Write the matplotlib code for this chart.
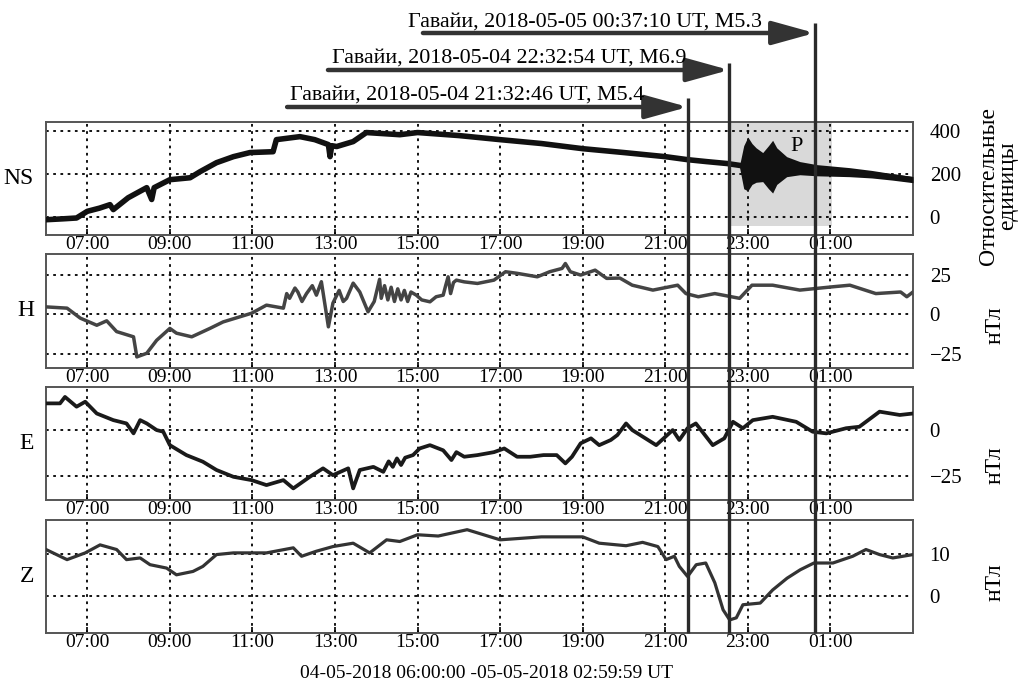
import numpy as np
import matplotlib
matplotlib.use("Agg")
import matplotlib.pyplot as plt

plt.rcParams['font.family'] = ['Liberation Serif', 'DejaVu Serif']

# hours since 2018-05-04 06:00 UT
tick_hours = [1, 3, 5, 7, 9, 11, 13, 15, 17, 19]
tick_labels = ['07:00', '09:00', '11:00', '13:00', '15:00', '17:00',
               '19:00', '21:00', '23:00', '01:00']

# NS (relative units), centre of the trace
ns_hours = [0, 0.4, 0.74, 1.0, 1.3, 1.55, 1.63, 1.99, 2.2, 2.44, 2.56, 2.62,
            3.0, 3.49, 3.73, 4.13, 4.54, 4.94, 5.5, 5.58, 6.15, 6.51, 6.84,
            6.88, 6.92, 7.04, 7.44, 7.76, 8.57, 9, 10, 11, 12, 13, 14, 15,
            15.54, 16, 16.5, 16.85, 17.5, 18, 18.5, 19, 19.5, 20, 20.5, 21]
ns_vals = [-14, -10, -6, 25, 40, 56, 33, 88, 110, 135, 80, 135,
           172, 181, 209, 251, 279, 298, 302, 358, 372, 358, 335,
           279, 330, 326, 349, 391, 381, 391, 377, 358, 340, 316, 298, 279,
           265, 256, 247, 237, 230, 230, 216, 207, 205, 195, 185, 172]

# NS envelope of the P oscillation
p_hours = [16.8, 16.9, 17.0, 17.1, 17.2, 17.36, 17.5, 17.6, 17.7, 17.94,
           18.26, 18.67, 19.46, 20.0, 20.5, 21.0]
p_upper = [240, 330, 370, 340, 320, 298, 330, 355, 320, 279,
           256, 242, 228, 215, 200, 186]
p_lower = [228, 130, 120, 150, 160, 163, 130, 110, 150, 186,
           195, 190, 186, 180, 170, 158]

# H, nT
h_hours = [0, 0.51, 0.83, 1.23, 1.47, 1.71, 2.12, 2.2, 2.44, 2.68, 3.0, 3.16,
           3.53, 3.97, 4.29, 4.98, 5.34, 5.75, 5.83, 5.9, 6.03, 6.1, 6.2,
           6.31, 6.45, 6.55, 6.67, 6.84, 6.95, 7.1, 7.2, 7.28, 7.44, 7.6,
           7.8, 7.95, 8.08, 8.12, 8.2, 8.28, 8.36, 8.44, 8.52, 8.6, 8.68,
           8.76, 8.84, 8.97, 9.1, 9.3, 9.45, 9.62, 9.68, 9.74, 9.8, 9.87,
           9.94, 10.13, 10.45, 10.85, 11.13, 11.41, 11.9, 12.2, 12.5, 12.58,
           12.7, 12.95, 13.3, 13.58, 13.9, 14.2, 14.7, 15.3, 15.5,
           15.8, 16.2, 16.8, 17.1, 17.6, 18.26, 19.06, 19.47, 20.1, 20.7,
           20.85, 21]
h_vals = [4.6, 3.8, -2.5, -7, -4.2, -11, -14.3, -27, -24.7, -16.5, -9, -12,
          -14.3, -9, -4.9, 0.6, 5.7, 3.8, 13, 10, 16.5, 14, 8,
          13, 18, 12, 20.5, -8, 7, 15, 8, 10, 19.6, 14,
          1.5, 8, 22, 10, 18, 9, 17, 8, 16, 9, 15,
          8, 14, 12, 9, 7.8, 11, 12, 18, 23.6, 13, 20,
          21.5, 20.4, 19.4, 21.5, 26.8, 25.8, 23.6, 26.8, 28.9, 32,
          26.8, 24.7, 27.8, 22.6, 22.8, 18.3, 15.2, 18.3, 13,
          11, 13, 10, 18.3, 18.3, 15.2, 17.3, 18.3, 13, 14,
          11, 14]

# E, nT
e_hours = [0, 0.34, 0.46, 0.74, 0.95, 1.23, 1.63, 1.95, 2.12, 2.28, 2.44,
           2.68, 2.84, 3.0, 3.4, 3.8, 4.13, 4.54, 4.98, 5.34, 5.75, 5.99,
           6.39, 6.71, 6.95, 7.32, 7.44, 7.6, 7.93, 8.17, 8.3, 8.4, 8.5, 8.6,
           8.7, 8.89, 9.05, 9.3, 9.62, 9.82, 9.94, 10.13, 10.45, 10.85, 11.1,
           11.41, 11.73, 12.05, 12.37, 12.58, 12.74, 12.95, 13.2, 13.4, 13.68,
           13.84, 14.05, 14.2, 14.78, 15.18, 15.34,
           15.54, 15.74, 16.15, 16.43, 16.64, 16.88, 17.12, 17.6, 18.17,
           18.57, 18.9, 19.38, 19.7, 20.19, 20.68, 21]
e_vals = [14.5, 14.5, 18, 12.7, 15.4, 9, 5.4, 3.6, -1.8, 5.4, 3.6,
          0, -0.9, -8.2, -13.6, -17.2, -21.7, -25.4, -27.2, -29.9, -27.2, -31.7,
          -25.4, -20.8, -24.5, -20.8, -31.7, -21.7, -20, -22.7, -17, -20, -15.4,
          -19, -15, -13.6, -10, -8.2, -11, -16.3, -12, -14.5, -13.6, -12, -10,
          -14.5, -14.5, -13.6, -13.6, -18.1, -14.5, -7.2, -4.5, -8.2, -5.4,
          -2.7, 3.6, 0, -8.2, 0, -5.4,
          1, 3.6, -8.2, -4.5, 4.5, 1, 5.4, 7.2, 4.5,
          -0.9, -1.8, 1, 1.8, 10, 8.2, 9]

# Z, nT
z_hours = [0, 0.51, 0.95, 1.31, 1.71, 1.95, 2.28, 2.52, 2.92, 3.16, 3.56,
           3.8, 4.13, 4.54, 5.34, 5.99, 6.19, 6.55, 6.95, 7.44, 7.84, 8.25,
           8.57, 9, 9.5, 10.2, 11, 12, 13, 13.4, 14.05, 14.45, 14.82, 15.02,
           15.22, 15.34, 15.54, 15.75, 15.98, 16.2, 16.4, 16.56, 16.72, 16.88,
           17.3, 17.6, 17.95, 18.27, 18.6, 19.06, 19.54, 19.86, 20.19, 20.51, 21]
z_vals = [11, 8.6, 10.2, 12.1, 11, 8.6, 9, 7.4, 6.6, 5, 5.8,
          7, 9.8, 10.2, 10.2, 11.4, 9.4, 10.6, 11.7, 12.5, 10.2, 13.3,
          12.9, 14.5, 14.2, 15.7, 13.3, 14, 14, 12.5, 11.9, 12.7, 11.7, 8.6,
          9.4, 7, 4.6, 7.4, 7.8, 3.1, -3.3, -5.7, -5.2, -2.1,
          -1.7, 1.4, 4.2, 6.2, 7.8, 7.8, 9.4, 11, 9.8, 9, 9.8]

# earthquakes (UT, hour counted from 2018-05-04 00:00)
eq_labels = ['Гавайи, 2018-05-04 21:32:46 UT, M5.4',
             'Гавайи, 2018-05-04 22:32:54 UT, M6.9',
             'Гавайи, 2018-05-05 00:37:10 UT, M5.3']
eq_times = [(21, 32, 46), (22, 32, 54), (24, 37, 10)]
eq_hours = [h - 6 + m / 60 + s / 3600 for h, m, s in eq_times]

W, H = 1031, 684
fig = plt.figure(figsize=(W / 100, H / 100), dpi=100)

left, width = 46 / W, 867 / W
panel_px = [(122, 235), (254, 368), (387, 500), (520, 633)]

panels = [
    dict(name='NS', x=ns_hours, y=ns_vals, color='#111111', lw=4,
         ylim=(-85, 440), ticks=[0, 200, 400], unit='Относительные\nединицы'),
    dict(name='H', x=h_hours, y=h_vals, color='#444444', lw=2.5,
         ylim=(-34, 38), ticks=[-25, 0, 25], unit='нТл'),
    dict(name='E', x=e_hours, y=e_vals, color='#1a1a1a', lw=2.7,
         ylim=(-38, 23.4), ticks=[-25, 0], unit='нТл'),
    dict(name='Z', x=z_hours, y=z_vals, color='#333333', lw=2.3,
         ylim=(-8.8, 18), ticks=[0, 10], unit='нТл'),
]

axes = []
for (top, bot), p in zip(panel_px, panels):
    ax = fig.add_axes([left, 1 - bot / H, width, (bot - top) / H])
    ax.set_xlim(0, 21)
    ax.set_ylim(*p['ylim'])
    ax.set_xticks(tick_hours)
    ax.set_xticklabels(tick_labels, fontsize=14)
    ax.set_yticks(p['ticks'])
    ax.yaxis.tick_right()
    ax.tick_params(axis='y', labelsize=15, length=0, pad=12)
    ax.tick_params(axis='x', direction='in', length=4, width=1.2, pad=1,
                   top=False)
    ax.grid(True, color='black', linestyle=(0, (1.5, 2.5)), linewidth=1.3)
    for s in ax.spines.values():
        s.set_color('#555555')
        s.set_linewidth(1.4)
    ax.plot(p['x'], p['y'], color=p['color'], lw=p['lw'], zorder=3)
    ax.text(-0.014, 0.5, p['name'], transform=ax.transAxes, fontsize=17,
            ha='right', va='center')
    axes.append(ax)

# shaded P region and envelope
ax_ns = axes[0]
ax_ns.axvspan(16.6, 19.03, ymin=(-45 + 85) / 525, ymax=1, color='#d9d9d9',
              zorder=1, lw=0)
ax_ns.fill_between(p_hours, p_lower, p_upper, color='#111111', lw=0, zorder=3)
ax_ns.text(18.18, 326, 'P', fontsize=16, ha='center', va='center', zorder=4)

# right-hand unit labels
fig.text(998 / W, 1 - 186 / H, panels[0]['unit'], rotation=90, fontsize=17,
         ha='center', va='center', linespacing=0.9)
for yc in [325, 465, 582]:
    fig.text(995 / W, 1 - yc / H, 'нТл', rotation=90, fontsize=17,
             ha='center', va='center')

fig.text(486 / W, 1 - 673 / H, '04-05-2018 06:00:00 -05-05-2018 02:59:59 UT',
         fontsize=14, ha='center', va='center')

# overlay for earthquake markers (y in pixels)
ov = fig.add_axes([left, 0, width, 1], zorder=10)
ov.set_xlim(0, 21)
ov.set_ylim(H, 0)
ov.axis('off')
ov.patch.set_alpha(0)

arrow_start = [5.84, 6.83, 9.13]
arrow_y = [107, 70, 33]
line_top = [98, 63, 23]
text_x = [5.91, 6.93, 8.77]
text_base = [100, 63, 27]
for lab, xe, xs, ya, yt, xt, yb in zip(eq_labels, eq_hours, arrow_start,
                                       arrow_y, line_top, text_x, text_base):
    ov.plot([xe, xe], [yt, 633], color='#2a2a2a', lw=2.4, solid_capstyle='butt')
    ov.annotate('', xy=(xe, ya), xytext=(xs, ya),
                arrowprops=dict(arrowstyle='-|>,head_length=1.3,head_width=0.36',
                                color='#333333', lw=3.2, shrinkA=0, shrinkB=0,
                                mutation_scale=20))
    ov.text(xt, yb, lab, fontsize=15.8, ha='left', va='baseline')

fig.savefig('out.png', dpi=100)
